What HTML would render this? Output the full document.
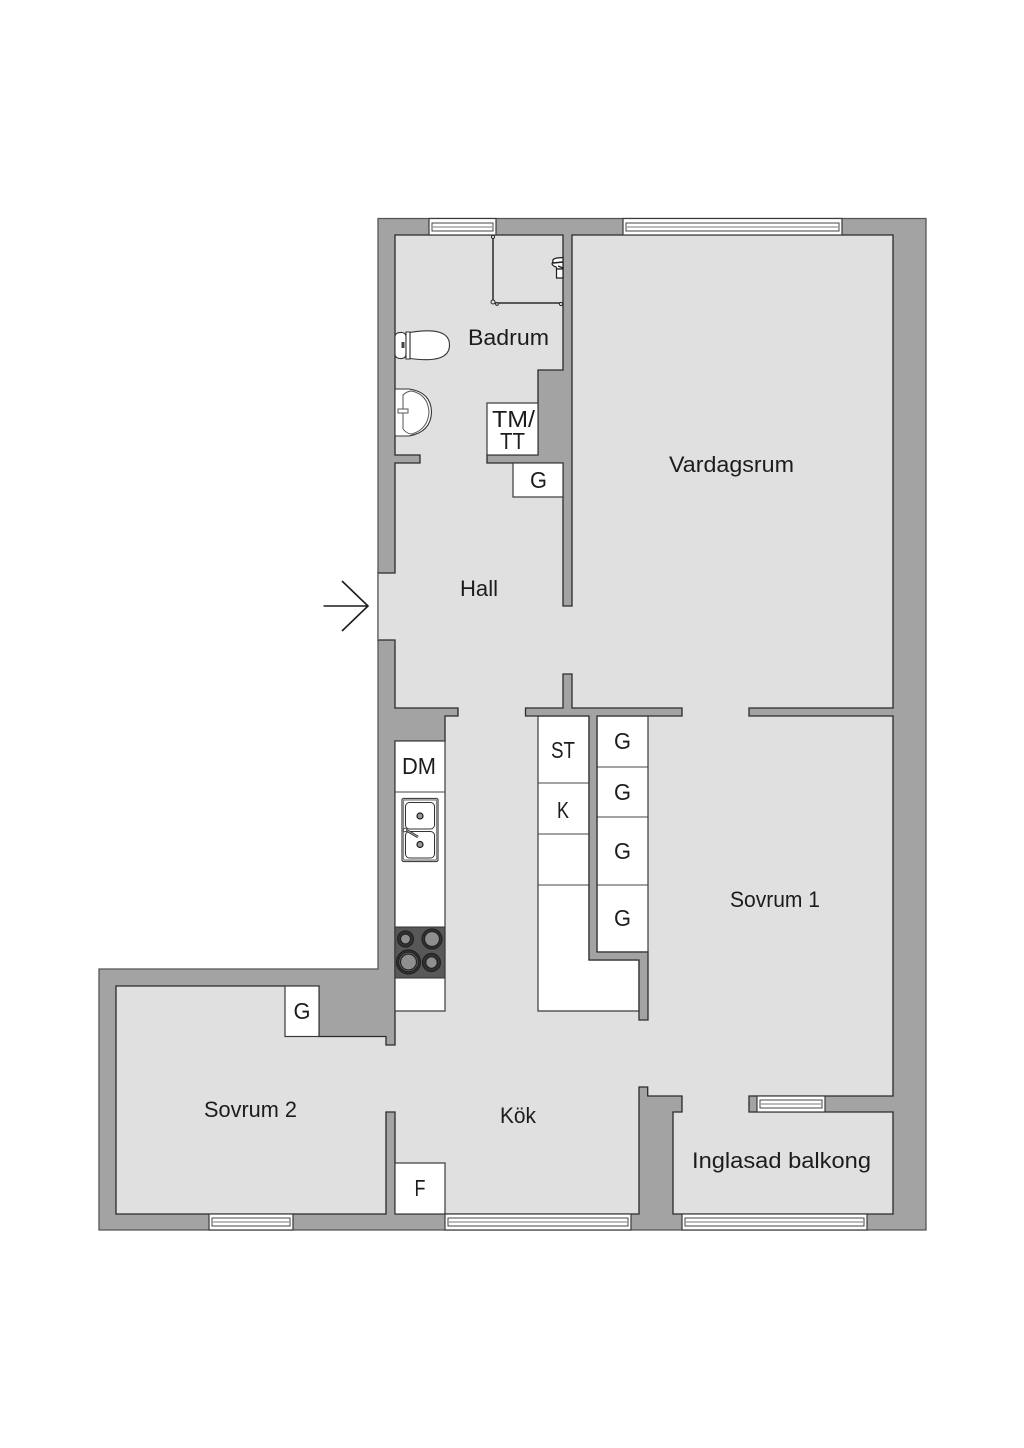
<!DOCTYPE html>
<html lang="sv">
<head>
<meta charset="utf-8">
<title>Planritning</title>
<style>
html,body{margin:0;padding:0;background:#fff;}
svg{display:block;}
text{font-family:"Liberation Sans",sans-serif;font-size:22px;fill:#1c1c1c;}
.s{font-size:23px;}
.w{fill:#a3a3a3;stroke:#2e2e2e;stroke-width:1.3;}
.f{fill:#fff;stroke:#3a3a3a;stroke-width:1.2;}
.l{fill:none;stroke:#444;stroke-width:1.1;}
.win{fill:none;stroke:#444;stroke-width:1;}
</style>
</head>
<body>
<svg xmlns="http://www.w3.org/2000/svg" width="1024" height="1448" viewBox="0 0 1024 1448">
<rect width="1024" height="1448" fill="#fff"/>

<!-- outer building -->
<path class="w" d="M378,218.5H926V1230H99V969H378Z" style="stroke:#555"/>

<!-- floor -->
<path d="M395,235H563V370H538V455H487V463H563V606H572V235H893V708H749V716H893V1096H749V1112H893V1214H673V1112H682V1096H647.7V1087H639V1214H395V1112H386V1214H116V986H319V1036.5H386V1045H395V741H445V716H458V708H395V640H378V573H395V463H420V455H395Z" fill="#e0e0e0" stroke="#2a2a2a" stroke-width="1.3"/>

<!-- entrance threshold -->
<line x1="378" y1="573" x2="378" y2="640" stroke="#777" stroke-width="1.2"/>

<!-- wardrobes and counters -->
<rect class="f" x="487" y="403" width="51" height="52"/>
<rect class="f" x="513" y="463" width="50" height="34"/>
<rect class="f" x="285" y="986" width="34" height="50.5"/>
<rect class="f" x="395" y="1163" width="50" height="51"/>
<rect class="f" x="395" y="741" width="50" height="270"/>
<line class="l" x1="395" y1="792" x2="445" y2="792"/>
<path class="f" d="M538,716H589V960H639V1011H538Z"/>
<line class="l" x1="538" y1="783" x2="589" y2="783"/>
<line class="l" x1="538" y1="834" x2="589" y2="834"/>
<line class="l" x1="538" y1="885" x2="589" y2="885"/>
<rect class="f" x="597" y="716" width="51" height="236"/>
<line class="l" x1="597" y1="767" x2="648" y2="767"/>
<line class="l" x1="597" y1="817" x2="648" y2="817"/>
<line class="l" x1="597" y1="885" x2="648" y2="885"/>

<!-- island walls -->
<path class="w" d="M563,674H572V708H682V716H597V952H648V1020H639V960H589V716H525.5V708H563Z"/>

<!-- windows -->
<g>
<rect class="f" x="429" y="218.5" width="67" height="16.5"/>
<rect class="win" x="432" y="223" width="61" height="8"/>
<rect x="433" y="226" width="59" height="2" fill="#bbb"/>
<rect class="f" x="623" y="218.5" width="219" height="16.5"/>
<rect class="win" x="626" y="223" width="213" height="8"/>
<rect x="627" y="226" width="211" height="2" fill="#bbb"/>
<rect class="f" x="209" y="1214" width="84" height="16"/>
<rect class="win" x="212" y="1218" width="78" height="8"/>
<rect x="213" y="1221" width="76" height="2" fill="#bbb"/>
<rect class="f" x="445" y="1214" width="186" height="16"/>
<rect class="win" x="448" y="1218" width="180" height="8"/>
<rect x="449" y="1221" width="178" height="2" fill="#bbb"/>
<rect class="f" x="682" y="1214" width="185" height="16"/>
<rect class="win" x="685" y="1218" width="179" height="8"/>
<rect x="686" y="1221" width="177" height="2" fill="#bbb"/>
<rect class="f" x="757" y="1096" width="68" height="16"/>
<rect class="win" x="760" y="1100" width="62" height="8"/>
<rect x="761" y="1103" width="60" height="2" fill="#bbb"/>
</g>

<!-- shower -->
<path d="M493,237V303H562" fill="none" stroke="#2a2a2a" stroke-width="1.5"/>
<circle cx="493" cy="237" r="1.6" fill="#e0e0e0" stroke="#2a2a2a" stroke-width="1"/>
<circle cx="493" cy="302" r="2" fill="#e0e0e0" stroke="#2a2a2a" stroke-width="1"/>
<circle cx="497" cy="304" r="1.4" fill="#e0e0e0" stroke="#2a2a2a" stroke-width="1"/>
<circle cx="561" cy="304" r="1.6" fill="#e0e0e0" stroke="#2a2a2a" stroke-width="1"/>
<!-- shower mixer -->
<path d="M563,257.5L557,258Q552,259 553,261L552,264Q553,266 556,267L557,269H563Z" fill="#fff" stroke="#1c1c1c" stroke-width="1.2"/>
<rect x="556.5" y="269" width="6.5" height="9" fill="#fff" stroke="#1c1c1c" stroke-width="1.2"/>
<path d="M553,263L563,262M558,266L563,268" fill="none" stroke="#1c1c1c" stroke-width="1.4"/>

<!-- toilet -->
<path d="M395,336Q396,332 402,332.5Q406,333 406,337V354Q406,358 402,358.5Q396,359 395,355Z" fill="#fff" stroke="#333" stroke-width="1.1"/>
<path d="M410,332.5Q449.5,326 449.5,345Q449.5,364 410,358.5Z" fill="#fff" stroke="#333" stroke-width="1.1"/>
<path d="M406,332H410V359H406Z" fill="#fff" stroke="#333" stroke-width="1.1"/>
<rect x="401.5" y="342" width="3" height="6" fill="#444"/>

<!-- washbasin -->
<path d="M395,389H409Q431,392 431.5,412Q431,432 409,436H395Z" fill="#fff" stroke="#333" stroke-width="1.1"/>
<path d="M403,395Q407,391 412,391Q428,395 429,412Q428,429 412,434Q407,434 403,429Z" fill="none" stroke="#555" stroke-width="1"/>
<rect x="398" y="409" width="10" height="4" fill="#fff" stroke="#555" stroke-width="1"/>

<!-- sink -->
<rect x="402" y="798.5" width="36" height="63" rx="1.5" fill="#fff" stroke="#444" stroke-width="1.2"/>
<rect x="403.5" y="800" width="33" height="60" rx="1" fill="none" stroke="#888" stroke-width="1.2"/>
<rect x="405.5" y="802.5" width="29" height="26.5" rx="4" fill="#fff" stroke="#333" stroke-width="1"/>
<rect x="405.5" y="831.5" width="29" height="26.5" rx="4" fill="#fff" stroke="#333" stroke-width="1"/>
<circle cx="420" cy="816" r="3" fill="#999" stroke="#1c1c1c" stroke-width="1.2"/>
<circle cx="420" cy="844.5" r="3" fill="#999" stroke="#1c1c1c" stroke-width="1.2"/>
<line x1="406" y1="830" x2="418" y2="837" stroke="#333" stroke-width="2.6"/>
<line x1="406" y1="830" x2="418" y2="837" stroke="#aaa" stroke-width="1"/>
<circle cx="405" cy="830" r="1.8" fill="#fff" stroke="#333" stroke-width=".9"/>

<!-- hob -->
<rect x="395" y="927" width="50" height="51" fill="#585858" stroke="#333" stroke-width="1"/>
<g stroke="#222" stroke-width="1.2">
<circle cx="405.5" cy="939" r="8" fill="#333"/>
<circle cx="405.5" cy="939" r="5" fill="#8f8f8f"/>
<circle cx="432" cy="939" r="10" fill="#333"/>
<circle cx="432" cy="939" r="7.5" fill="#8f8f8f"/>
<circle cx="408.5" cy="962" r="12" fill="#333"/>
<circle cx="408.5" cy="962" r="9.8" fill="#777"/>
<circle cx="408.5" cy="962" r="8" fill="#8f8f8f"/>
<circle cx="431.5" cy="962.5" r="9" fill="#333"/>
<circle cx="431.5" cy="962.5" r="5.8" fill="#8f8f8f"/>
</g>

<!-- entrance arrow -->
<path d="M323.5,606H368M342,581L368,606L342,631" fill="none" stroke="#1c1c1c" stroke-width="1.6"/>

<!-- labels -->
<text x="468" y="345" textLength="81" lengthAdjust="spacingAndGlyphs">Badrum</text>
<text x="669" y="472" textLength="125" lengthAdjust="spacingAndGlyphs">Vardagsrum</text>
<text x="460" y="596" textLength="38" lengthAdjust="spacingAndGlyphs">Hall</text>
<text x="730" y="907" textLength="90" lengthAdjust="spacingAndGlyphs">Sovrum 1</text>
<text x="204" y="1117" textLength="93" lengthAdjust="spacingAndGlyphs">Sovrum 2</text>
<text x="500" y="1123" textLength="36" lengthAdjust="spacingAndGlyphs">Kök</text>
<text x="692" y="1168" textLength="179" lengthAdjust="spacingAndGlyphs">Inglasad balkong</text>
<text class="s" x="492" y="427" textLength="43" lengthAdjust="spacingAndGlyphs">TM/</text>
<text class="s" x="500" y="449" textLength="25" lengthAdjust="spacingAndGlyphs">TT</text>
<text class="s" x="530" y="488" textLength="17" lengthAdjust="spacingAndGlyphs">G</text>
<text class="s" x="402" y="774" textLength="34" lengthAdjust="spacingAndGlyphs">DM</text>
<text class="s" x="551" y="758" textLength="24" lengthAdjust="spacingAndGlyphs">ST</text>
<text class="s" x="557" y="818" textLength="12" lengthAdjust="spacingAndGlyphs">K</text>
<text class="s" x="614" y="749" textLength="17" lengthAdjust="spacingAndGlyphs">G</text>
<text class="s" x="614" y="800" textLength="17" lengthAdjust="spacingAndGlyphs">G</text>
<text class="s" x="614" y="859" textLength="17" lengthAdjust="spacingAndGlyphs">G</text>
<text class="s" x="614" y="926" textLength="17" lengthAdjust="spacingAndGlyphs">G</text>
<text class="s" x="293.5" y="1019" textLength="17" lengthAdjust="spacingAndGlyphs">G</text>
<text class="s" x="414.5" y="1196" textLength="11" lengthAdjust="spacingAndGlyphs">F</text>
</svg>
</body>
</html>
